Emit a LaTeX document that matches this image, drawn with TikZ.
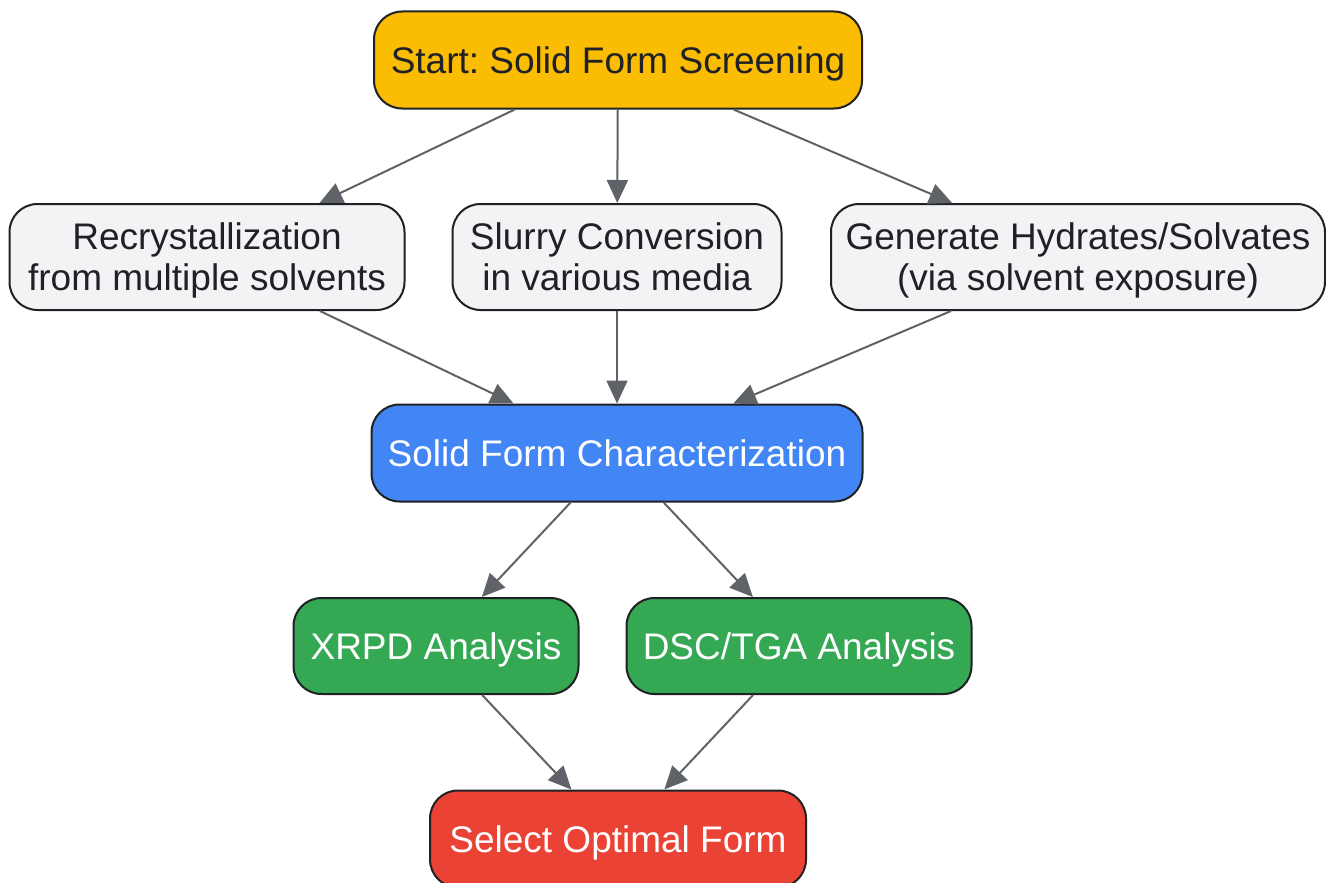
\documentclass[tikz,border=0pt]{standalone}
\usepackage{fontspec}
\setmainfont{Liberation Sans}
\usetikzlibrary{arrows.meta}
\frenchspacing
\definecolor{cOrange}{HTML}{FBBC04}
\definecolor{cGray}{HTML}{F1F3F4}
\definecolor{cBlue}{HTML}{4285F4}
\definecolor{cGreen}{HTML}{34A853}
\definecolor{cRed}{HTML}{EA4335}
\definecolor{cText}{HTML}{202124}
\definecolor{cEdge}{HTML}{5F6368}
\tikzset{
  box/.style={draw=cText, line width=2pt, rounded corners=28pt, inner sep=0pt,
    align=center, text depth=0pt, font=\fontsize{37}{41}\selectfont\frenchspacing},
  darktext/.style={text=cText},
  lighttext/.style={text=white},
  conn/.style={draw=cEdge, line width=2pt, -{Triangle[length=23pt,width=21pt]}},
}
\begin{document}
\begin{tikzpicture}[x=1pt,y=1pt]
\useasboundingbox (0,0) rectangle (1326,-883);
\node[box, darktext, fill=cOrange, minimum width=488pt, minimum height=97pt] (start) at (618,-60) {Start: Solid Form Screening};
\node[box, darktext, fill=cGray, minimum width=395pt, minimum height=106pt] (rec) at (207,-257) {Recrystallization\\from multiple solvents};
\node[box, darktext, fill=cGray, minimum width=329pt, minimum height=106pt] (slurry) at (617,-257) {Slurry Conversion\\in various media};
\node[box, darktext, fill=cGray, minimum width=494pt, minimum height=106pt] (gen) at (1078,-257) {Generate Hydrates/Solvates\\(via solvent exposure)};
\node[box, lighttext, fill=cBlue, minimum width=491pt, minimum height=97pt] (char) at (617,-453) {Solid Form Characterization};
\node[box, lighttext, fill=cGreen, minimum width=285pt, minimum height=96pt] (xrpd) at (436,-646) {XRPD Analysis};
\node[box, lighttext, fill=cGreen, minimum width=345pt, minimum height=96pt] (dsc) at (799,-646) {DSC/TGA Analysis};
\node[box, lighttext, fill=cRed, minimum width=376pt, minimum height=97pt] (sel) at (618,-839) {Select Optimal Form};
\draw[conn] (start) -- (rec);
\draw[conn] (start) -- (slurry);
\draw[conn] (start) -- (gen);
\draw[conn] (rec) -- (char);
\draw[conn] (slurry) -- (char);
\draw[conn] (gen) -- (char);
\draw[conn] (char) -- (xrpd);
\draw[conn] (char) -- (dsc);
\draw[conn] (xrpd) -- (sel);
\draw[conn] (dsc) -- (sel);
\end{tikzpicture}
\end{document}
